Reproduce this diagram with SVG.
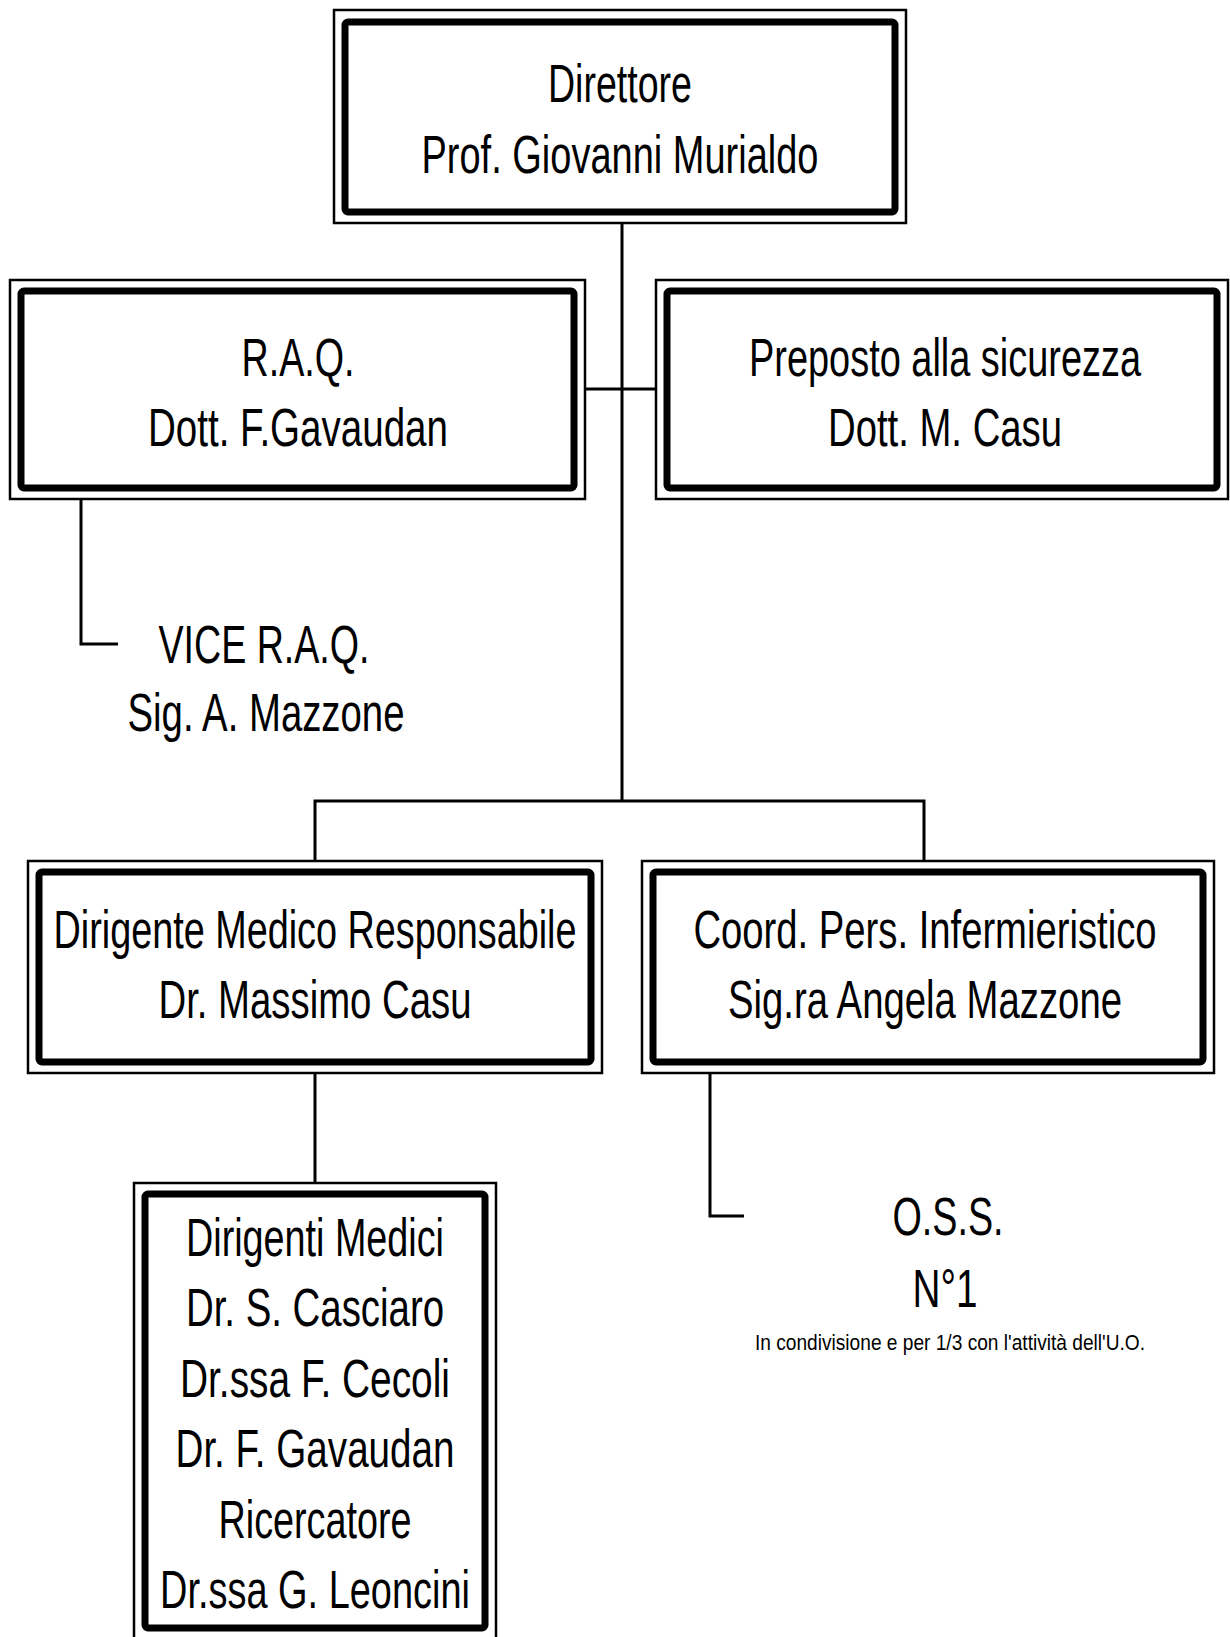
<svg xmlns="http://www.w3.org/2000/svg" width="1230" height="1637" viewBox="0 0 1230 1637">
<style>
.outer{fill:#fff;stroke:#000;stroke-width:2.5}
.inner{fill:#fff;stroke:#000;stroke-width:7}
.t{font-family:"Liberation Sans",Arial,sans-serif;font-size:54px;fill:#000;text-anchor:middle}
.s{font-family:"Liberation Sans",Arial,sans-serif;font-size:22px;fill:#000;text-anchor:middle}
.c{fill:none;stroke:#000;stroke-width:3}
</style>
<rect width="1230" height="1637" fill="#fff"/>
<g id="connectors">
<path class="c" d="M622 223V801"/>
<path class="c" d="M585 389H656"/>
<path class="c" d="M315 861V801H924V861"/>
<path class="c" d="M81 499V644H118"/>
<path class="c" d="M315 1073V1183"/>
<path class="c" d="M710 1073V1216H744"/>
</g>
<g id="direttore">
<rect class="outer" x="334" y="10" width="572" height="213"/>
<rect class="inner" x="345" y="22" width="550" height="190" rx="3"/>
<text class="t" x="620" y="102" textLength="144" lengthAdjust="spacingAndGlyphs">Direttore</text>
<text class="t" x="620" y="173" textLength="397" lengthAdjust="spacingAndGlyphs">Prof. Giovanni Murialdo</text>
</g>
<g id="raq">
<rect class="outer" x="10" y="280" width="575" height="219"/>
<rect class="inner" x="21" y="291" width="553" height="197" rx="3"/>
<text class="t" x="298" y="376" textLength="113" lengthAdjust="spacingAndGlyphs">R.A.Q.</text>
<text class="t" x="298" y="446" textLength="300" lengthAdjust="spacingAndGlyphs">Dott. F.Gavaudan</text>
</g>
<g id="preposto">
<rect class="outer" x="656" y="280" width="572" height="219"/>
<rect class="inner" x="667" y="291" width="550" height="197" rx="3"/>
<text class="t" x="945" y="376" textLength="392" lengthAdjust="spacingAndGlyphs">Preposto alla sicurezza</text>
<text class="t" x="945" y="446" textLength="234" lengthAdjust="spacingAndGlyphs">Dott. M. Casu</text>
</g>
<g id="vice-raq">
<text class="t" x="264" y="663" textLength="211" lengthAdjust="spacingAndGlyphs">VICE R.A.Q.</text>
<text class="t" x="266" y="731" textLength="277" lengthAdjust="spacingAndGlyphs">Sig. A. Mazzone</text>
</g>
<g id="dirigente">
<rect class="outer" x="28" y="861" width="574" height="212"/>
<rect class="inner" x="39" y="872" width="552" height="190" rx="3"/>
<text class="t" x="315" y="948" textLength="523" lengthAdjust="spacingAndGlyphs">Dirigente Medico Responsabile</text>
<text class="t" x="315" y="1018" textLength="313" lengthAdjust="spacingAndGlyphs">Dr. Massimo Casu</text>
</g>
<g id="coord">
<rect class="outer" x="642" y="861" width="572" height="212"/>
<rect class="inner" x="653" y="872" width="550" height="190" rx="3"/>
<text class="t" x="925" y="948" textLength="463" lengthAdjust="spacingAndGlyphs">Coord. Pers. Infermieristico</text>
<text class="t" x="925" y="1018" textLength="394" lengthAdjust="spacingAndGlyphs">Sig.ra Angela Mazzone</text>
</g>
<g id="dirigenti-medici">
<rect class="outer" x="134" y="1183" width="362" height="470"/>
<rect class="inner" x="145" y="1194" width="340" height="434" rx="3"/>
<text class="t" x="315" y="1256" textLength="258" lengthAdjust="spacingAndGlyphs">Dirigenti Medici</text>
<text class="t" x="315" y="1326" textLength="258" lengthAdjust="spacingAndGlyphs">Dr. S. Casciaro</text>
<text class="t" x="315" y="1397" textLength="270" lengthAdjust="spacingAndGlyphs">Dr.ssa F. Cecoli</text>
<text class="t" x="315" y="1467" textLength="279" lengthAdjust="spacingAndGlyphs">Dr. F. Gavaudan</text>
<text class="t" x="315" y="1538" textLength="193" lengthAdjust="spacingAndGlyphs">Ricercatore</text>
<text class="t" x="315" y="1608" textLength="310" lengthAdjust="spacingAndGlyphs">Dr.ssa G. Leoncini</text>
</g>
<g id="oss">
<text class="t" x="948" y="1235" textLength="111" lengthAdjust="spacingAndGlyphs">O.S.S.</text>
<text class="t" x="945" y="1307" textLength="65" lengthAdjust="spacingAndGlyphs">N°1</text>
<text class="s" x="950" y="1350" textLength="390" lengthAdjust="spacingAndGlyphs">In condivisione e per 1/3 con l'attività dell'U.O.</text>
</g>
</svg>
